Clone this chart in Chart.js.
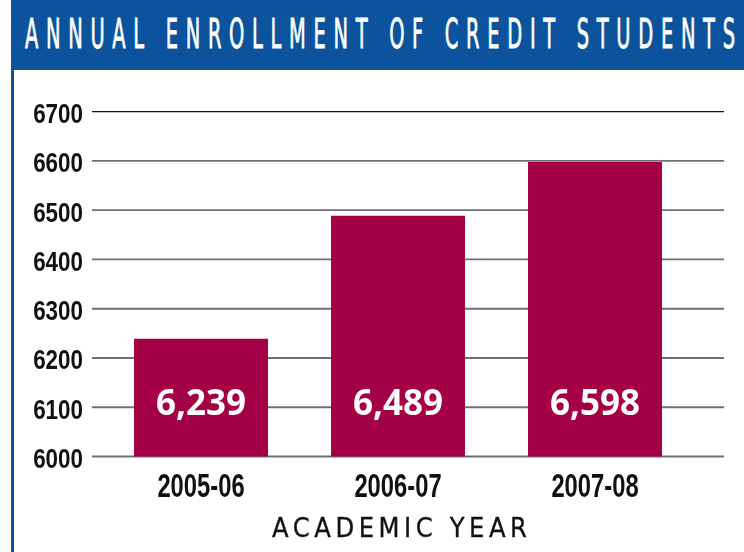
<!DOCTYPE html>
<html>
<head>
<meta charset="utf-8">
<script src="https://cdn.jsdelivr.net/npm/chart.js@4/dist/chart.umd.min.js"></script>
<style>
  html, body { margin: 0; padding: 0; background: #fff; }
  #wrap { position: relative; width: 744px; height: 552px; overflow: hidden; background: #fff; }
  #c { position: absolute; left: 0; top: 0; }
  #leftBorder { position: absolute; left: 11px; top: 0; width: 3px; height: 552px; background: #0B539C; }
  #header { position: absolute; left: 11px; top: 0; width: 733px; height: 70px; background: #0B539C; }
  #title { position: absolute; left: 25px; top: 14px; font-family: 'DejaVu Sans Condensed', 'Liberation Sans', sans-serif;
           font-size: 40px; line-height: 40px; color: #fff; white-space: nowrap;
           -webkit-text-stroke: 0.8px #fff; transform-origin: 0 0; }
  #xtitle { position: absolute; left: 272px; top: 514px; font-family: 'DejaVu Sans Condensed', 'Liberation Sans', sans-serif;
            font-size: 27px; line-height: 27px; color: #111; white-space: nowrap; -webkit-text-stroke: 0.3px #111; }
</style>
</head>
<body>
<div id="wrap">
  <canvas id="c" width="744" height="552"></canvas>
  <div id="leftBorder"></div>
  <div id="header"></div>
  <div id="title">ANNUAL ENROLLMENT OF CREDIT STUDENTS</div>
  <div id="xtitle">ACADEMIC YEAR</div>
</div>
<script>
const categories = ['2005-06', '2006-07', '2007-08'];
const enrollment = [6239, 6489, 6598];
const yMin = 6000;
const yMax = 6700;
const yStep = 100;

// fit spaced titles
(function fitTitles() {
  const t = document.getElementById('title');
  const sx = 0.54;
  const w0 = t.getBoundingClientRect().width;
  const n = t.textContent.length - 1;
  const ls = (710 / sx - w0) / n;
  t.style.letterSpacing = ls + 'px';
  t.style.transform = 'scaleX(' + sx + ')';

  const a = document.getElementById('xtitle');
  const a0 = a.getBoundingClientRect().width;
  const an = a.textContent.length - 1;
  a.style.letterSpacing = ((255 - a0) / an) + 'px';
})();

function withCommas(v) {
  return String(v).replace(/\B(?=(\d{3})+(?!\d))/g, ',');
}

const gridPlugin = {
  id: 'wideGrid',
  beforeDatasetsDraw(chart) {
    const y = chart.scales.y;
    const ctx = chart.ctx;
    ctx.save();
    y.ticks.forEach((t) => {
      const py = y.getPixelForValue(t.value);
      const top = t.value === yMax;
      ctx.strokeStyle = top ? '#111' : '#707070';
      ctx.lineWidth = top ? 1.2 : 1.8;
      ctx.beginPath();
      ctx.moveTo(92, py);
      ctx.lineTo(724, py);
      ctx.stroke();
    });
    ctx.restore();
  }
};

const labelPlugin = {
  id: 'condensedLabels',
  afterDraw(chart) {
    const ctx = chart.ctx;
    const y = chart.scales.y;
    const x = chart.scales.x;
    ctx.save();
    ctx.fillStyle = '#111';
    ctx.textBaseline = 'alphabetic';
    // y tick labels
    ctx.font = "bold 27px 'Liberation Sans', Arial, sans-serif";
    ctx.textAlign = 'right';
    y.ticks.forEach((t) => {
      const py = y.getPixelForValue(t.value);
      ctx.save();
      ctx.translate(83, py + 11.5);
      ctx.scale(0.83, 1);
      ctx.fillText(String(t.value), 0, 0);
      ctx.restore();
    });
    // x tick labels
    ctx.font = "bold 33px 'Liberation Sans', Arial, sans-serif";
    ctx.textAlign = 'center';
    categories.forEach((c, i) => {
      const px = x.getPixelForValue(i);
      ctx.save();
      ctx.translate(px, y.getPixelForValue(yMin) + 40.5);
      ctx.scale(0.72, 1);
      ctx.fillText(c, 0, 0);
      ctx.restore();
    });
    ctx.restore();
  }
};

const valuePlugin = {
  id: 'values',
  afterDatasetsDraw(chart) {
    const ctx = chart.ctx;
    const x = chart.scales.x;
    const y = chart.scales.y;
    const basePx = y.getPixelForValue(yMin);
    ctx.save();
    ctx.fillStyle = '#ffffff';
    ctx.font = "bold 35px 'Open Sans', 'DejaVu Sans', sans-serif";
    ctx.textAlign = 'center';
    ctx.textBaseline = 'alphabetic';
    enrollment.forEach((v, i) => {
      ctx.fillText(withCommas(v), x.getPixelForValue(i), basePx - 41.5);
    });
    ctx.restore();
  }
};

new Chart(document.getElementById('c'), {
  type: 'bar',
  data: {
    labels: categories,
    datasets: [{
      data: enrollment,
      backgroundColor: '#A40045',
      borderWidth: 0,
      categoryPercentage: 1,
      barPercentage: 0.68
    }]
  },
  options: {
    responsive: false,
    animation: false,
    devicePixelRatio: 1,
    layout: { padding: { left: 0, right: 50.5, top: 111.7, bottom: 0 } },
    plugins: { legend: { display: false }, tooltip: { enabled: false }, title: { display: false } },
    scales: {
      y: {
        min: yMin, max: yMax,
        border: { display: false },
        grid: { display: false, drawTicks: false },
        ticks: { stepSize: yStep, display: false },
        afterFit(s) { s.width = 102.5; }
      },
      x: {
        border: { display: false },
        grid: { display: false, drawTicks: false },
        ticks: { display: false },
        afterFit(s) { s.height = 95.5; }
      }
    }
  },
  plugins: [gridPlugin, valuePlugin, labelPlugin]
});
</script>
</body>
</html>
